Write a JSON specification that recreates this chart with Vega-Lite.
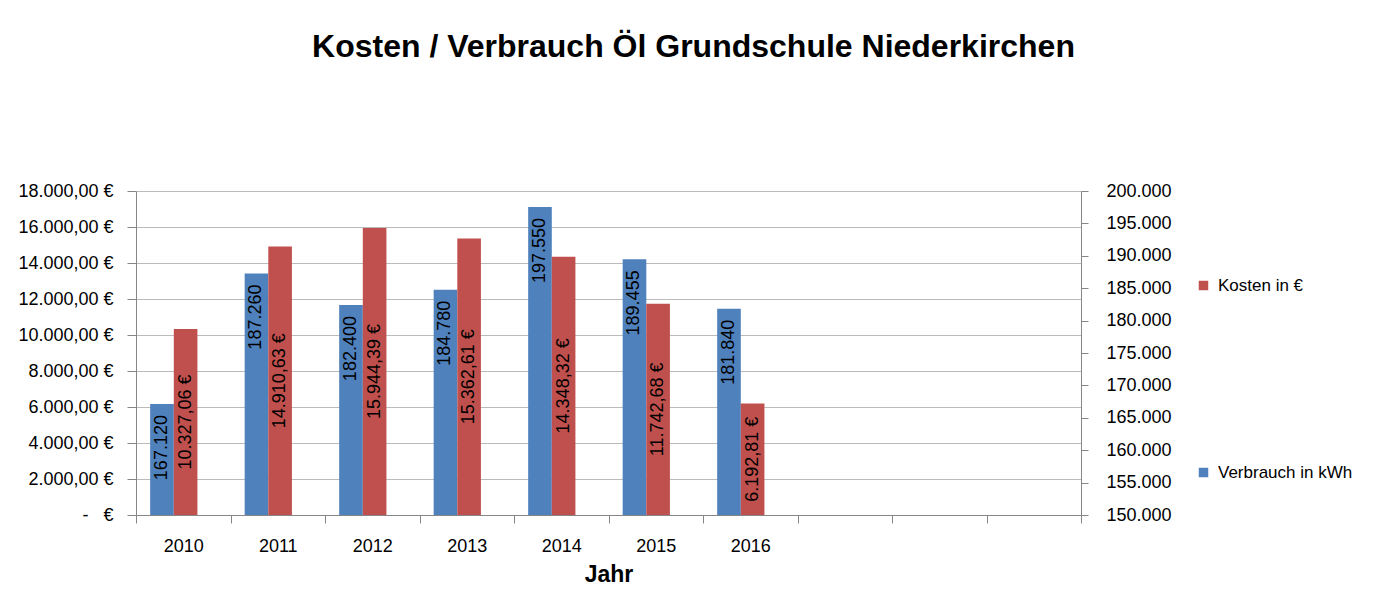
{
  "$schema": "https://vega.github.io/schema/vega-lite/v6.json",
  "autosize": {"type": "none"},
  "width": 945,
  "height": 324,
  "padding": {"left": 136, "top": 191, "right": 309, "bottom": 76},
  "background": "white",
  "config": {
    "locale": {"number": {"decimal": ",", "thousands": ".", "grouping": [3], "currency": ["", "\u00a0€"]}},
    "font": "Liberation Sans",
    "view": {"stroke": null},
    "axis": {"domainColor": "#868686", "tickColor": "#868686", "gridColor": "#BBBBBB", "labelColor": "#000000", "labelFont": "Liberation Sans", "labelFontSize": 18}
  },
  "title": {"text": "Kosten / Verbrauch Öl Grundschule Niederkirchen", "fontSize": 32, "fontWeight": "bold", "font": "Liberation Sans", "color": "#000000", "frame": "group", "anchor": "middle", "dx": 85, "offset": 118},
  "data": {"values": [
    {"year": "2010", "series": "Verbrauch in kWh", "value": 167120},
    {"year": "2011", "series": "Verbrauch in kWh", "value": 187260},
    {"year": "2012", "series": "Verbrauch in kWh", "value": 182400},
    {"year": "2013", "series": "Verbrauch in kWh", "value": 184780},
    {"year": "2014", "series": "Verbrauch in kWh", "value": 197550},
    {"year": "2015", "series": "Verbrauch in kWh", "value": 189455},
    {"year": "2016", "series": "Verbrauch in kWh", "value": 181840},
    {"year": "2010", "series": "Kosten in €", "value": 10327.06},
    {"year": "2011", "series": "Kosten in €", "value": 14910.63},
    {"year": "2012", "series": "Kosten in €", "value": 15944.39},
    {"year": "2013", "series": "Kosten in €", "value": 15362.61},
    {"year": "2014", "series": "Kosten in €", "value": 14348.32},
    {"year": "2015", "series": "Kosten in €", "value": 11742.68},
    {"year": "2016", "series": "Kosten in €", "value": 6192.81}
  ]},
  "encoding": {
    "x": {
      "field": "year", "type": "ordinal",
      "scale": {"domain": ["2010", "2011", "2012", "2013", "2014", "2015", "2016", "2017", "2018", "2019"], "paddingInner": 0, "paddingOuter": 0},
      "axis": {"title": "Jahr", "titleFontSize": 23, "titleFontWeight": "bold", "titleColor": "#000000", "titlePadding": 8, "labelAngle": 0, "labelPadding": 14, "tickBand": "extent", "tickSize": 8, "labelExpr": "toNumber(datum.value) > 2016 ? '' : datum.label"}
    },
    "xOffset": {
      "field": "series", "type": "nominal",
      "scale": {"domain": ["Verbrauch in kWh", "Kosten in €"], "paddingInner": 0, "paddingOuter": 1.35, "align": 0.3}
    }
  },
  "layer": [
    {
      "transform": [{"filter": "datum.series === 'Verbrauch in kWh'"}],
      "encoding": {
        "y": {"field": "value", "type": "quantitative",
          "scale": {"domain": [150000, 200000], "zero": false, "nice": false},
          "axis": {"orient": "right", "title": null, "format": ",d", "values": [150000, 155000, 160000, 165000, 170000, 175000, 180000, 185000, 190000, 195000, 200000], "grid": false, "tickSize": 7, "labelPadding": 18}}
      },
      "layer": [
        {
          "mark": {"type": "bar"},
          "encoding": {
            "y2": {"datum": 150000},
            "color": {"field": "series", "type": "nominal", "scale": {"domain": ["Verbrauch in kWh"], "range": ["#4F81BD"]},
              "legend": {"orient": "none", "legendX": 1059, "legendY": 273, "title": null, "symbolType": "square", "symbolSize": 90, "symbolStrokeWidth": 0, "labelFontSize": 17, "labelFont": "Liberation Sans", "labelColor": "#000000", "labelOffset": 6}}
          }
        },
        {
          "mark": {"type": "text", "angle": 270, "align": "right", "baseline": "middle", "dx": -11, "fontSize": 18, "color": "#000000"},
          "encoding": {"text": {"field": "value", "type": "quantitative", "format": ",d"}}
        }
      ]
    },
    {
      "transform": [{"filter": "datum.series === 'Kosten in €'"}],
      "layer": [
        {
          "mark": {"type": "bar"},
          "encoding": {
            "y": {"field": "value", "type": "quantitative",
              "scale": {"domain": [0, 18000], "nice": false},
              "axis": {"orient": "left", "title": null, "format": "$,.2f", "values": [0, 2000, 4000, 6000, 8000, 10000, 12000, 14000, 16000, 18000], "grid": true, "tickSize": 9, "labelPadding": 14, "labelExpr": "datum.value === 0 ? '-\u00a0\u00a0\u00a0€' : datum.label"}},
            "color": {"field": "series", "type": "nominal", "scale": {"domain": ["Kosten in €"], "range": ["#C0504D"]},
              "legend": {"orient": "none", "legendX": 1059, "legendY": 86, "title": null, "symbolType": "square", "symbolSize": 90, "symbolStrokeWidth": 0, "labelFontSize": 17, "labelFont": "Liberation Sans", "labelColor": "#000000", "labelOffset": 6}}
          }
        },
        {
          "mark": {"type": "text", "angle": 270, "align": "center", "baseline": "middle", "fontSize": 18, "color": "#000000"},
          "encoding": {
            "y": {"field": "value", "type": "quantitative", "stack": "zero", "bandPosition": 0.5,
              "scale": {"domain": [0, 18000], "nice": false},
              "axis": {"orient": "left", "title": null, "format": "$,.2f", "values": [0, 2000, 4000, 6000, 8000, 10000, 12000, 14000, 16000, 18000], "grid": true, "tickSize": 9, "labelPadding": 14, "labelExpr": "datum.value === 0 ? '-\u00a0\u00a0\u00a0€' : datum.label"}},
            "detail": {"field": "series"},
            "text": {"field": "value", "type": "quantitative", "format": "$,.2f"}
          }
        }
      ]
    }
  ],
  "resolve": {"scale": {"y": "independent", "color": "independent"}, "legend": {"color": "independent"}}
}
